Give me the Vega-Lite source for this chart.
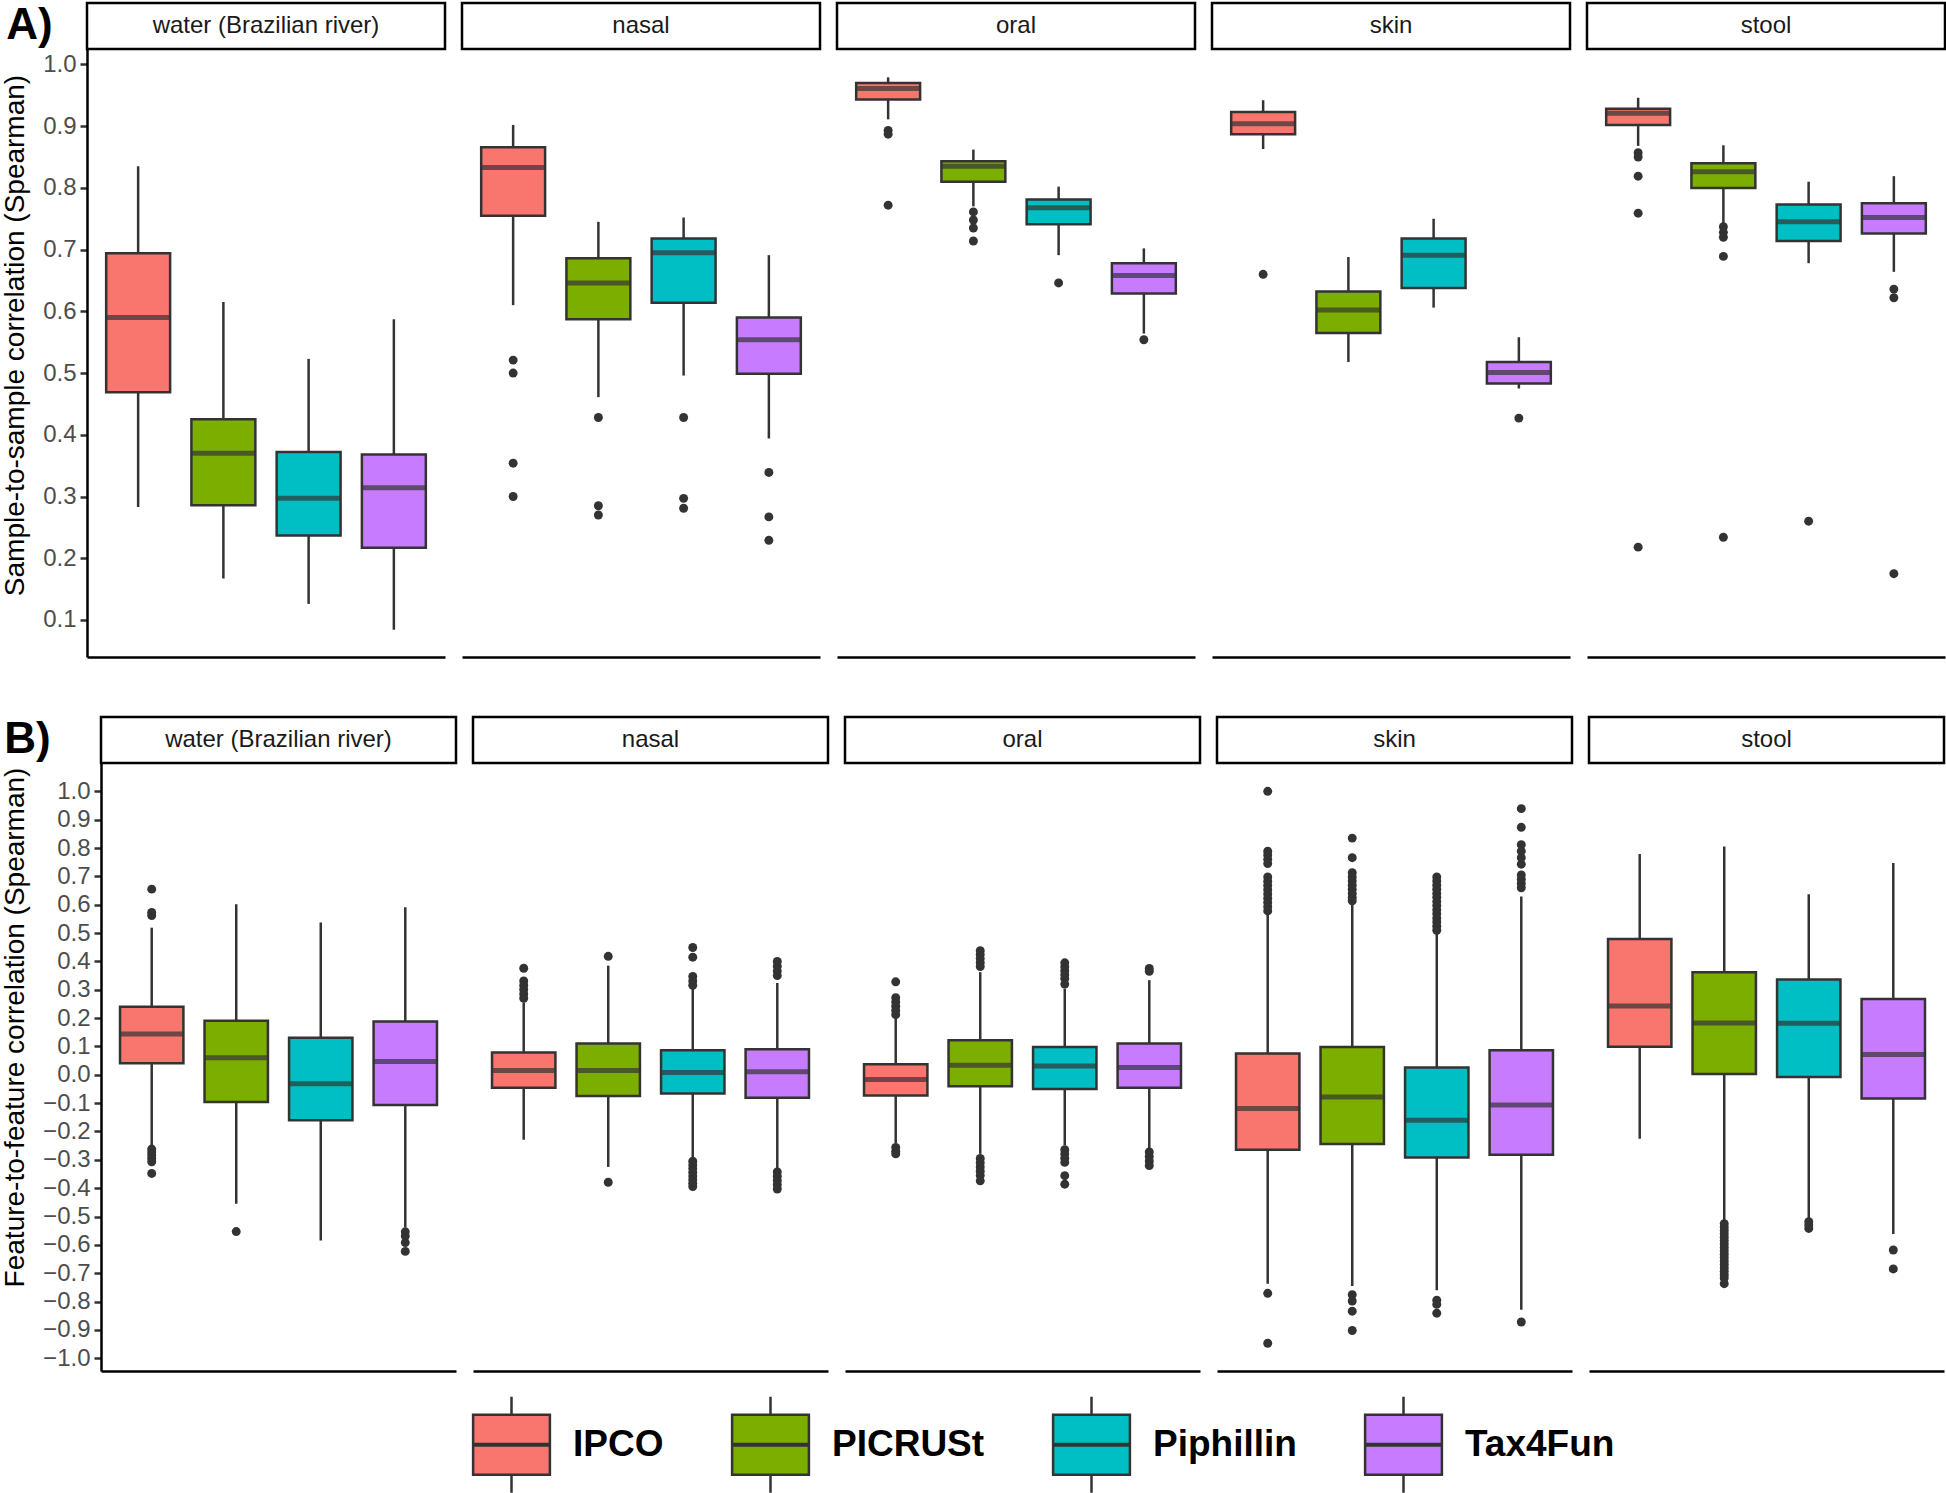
{
"$schema": "https://vega.github.io/schema/vega-lite/v6.json",
"padding": {"left": 0, "top": 1, "right": 0, "bottom": 0},
"background": "#ffffff",
"config": {
  "font": "Liberation Sans",
  "view": {"stroke": null},
  "axis": {"grid": false, "domainColor": "#000000", "domainWidth": 2.5, "tickColor": "#333333", "tickWidth": 2.5, "tickSize": 7, "labelPadding": 4, "labelFontSize": 24, "labelColor": "#4D4D4D", "labelOverlap": false, "labelFlush": false, "titleFontSize": 28, "titleFontWeight": "normal", "titleColor": "#000000", "titlePadding": 13},
  "axisX": {"labels": false, "ticks": false}
},
"datasets": {
  "statsA": [
    {"site":"water (Brazilian river)","method":"IPCO","lo":0.283,"q1":0.469,"med":0.590,"q3":0.694,"hi":0.835},
    {"site":"water (Brazilian river)","method":"PICRUSt","lo":0.167,"q1":0.286,"med":0.370,"q3":0.425,"hi":0.615},
    {"site":"water (Brazilian river)","method":"Piphillin","lo":0.126,"q1":0.237,"med":0.297,"q3":0.372,"hi":0.523},
    {"site":"water (Brazilian river)","method":"Tax4Fun","lo":0.084,"q1":0.217,"med":0.314,"q3":0.368,"hi":0.587},
    {"site":"nasal","method":"IPCO","lo":0.610,"q1":0.755,"med":0.833,"q3":0.866,"hi":0.902},
    {"site":"nasal","method":"PICRUSt","lo":0.461,"q1":0.587,"med":0.646,"q3":0.686,"hi":0.745},
    {"site":"nasal","method":"Piphillin","lo":0.496,"q1":0.614,"med":0.695,"q3":0.718,"hi":0.752},
    {"site":"nasal","method":"Tax4Fun","lo":0.394,"q1":0.499,"med":0.554,"q3":0.590,"hi":0.691},
    {"site":"oral","method":"IPCO","lo":0.911,"q1":0.943,"med":0.961,"q3":0.970,"hi":0.979},
    {"site":"oral","method":"PICRUSt","lo":0.770,"q1":0.810,"med":0.835,"q3":0.843,"hi":0.862},
    {"site":"oral","method":"Piphillin","lo":0.691,"q1":0.741,"med":0.768,"q3":0.781,"hi":0.802},
    {"site":"oral","method":"Tax4Fun","lo":0.564,"q1":0.629,"med":0.658,"q3":0.678,"hi":0.702},
    {"site":"skin","method":"IPCO","lo":0.863,"q1":0.887,"med":0.904,"q3":0.923,"hi":0.942},
    {"site":"skin","method":"PICRUSt","lo":0.518,"q1":0.565,"med":0.602,"q3":0.632,"hi":0.688},
    {"site":"skin","method":"Piphillin","lo":0.606,"q1":0.638,"med":0.691,"q3":0.718,"hi":0.750},
    {"site":"skin","method":"Tax4Fun","lo":0.475,"q1":0.483,"med":0.501,"q3":0.518,"hi":0.558},
    {"site":"stool","method":"IPCO","lo":0.868,"q1":0.902,"med":0.921,"q3":0.928,"hi":0.946},
    {"site":"stool","method":"PICRUSt","lo":0.740,"q1":0.800,"med":0.826,"q3":0.840,"hi":0.869},
    {"site":"stool","method":"Piphillin","lo":0.678,"q1":0.714,"med":0.745,"q3":0.773,"hi":0.810},
    {"site":"stool","method":"Tax4Fun","lo":0.664,"q1":0.726,"med":0.752,"q3":0.775,"hi":0.819}
  ],
  "outA": [
    {"site":"nasal","method":"IPCO","v":0.521},{"site":"nasal","method":"IPCO","v":0.500},{"site":"nasal","method":"IPCO","v":0.354},{"site":"nasal","method":"IPCO","v":0.300},
    {"site":"nasal","method":"PICRUSt","v":0.428},{"site":"nasal","method":"PICRUSt","v":0.285},{"site":"nasal","method":"PICRUSt","v":0.270},
    {"site":"nasal","method":"Piphillin","v":0.428},{"site":"nasal","method":"Piphillin","v":0.297},{"site":"nasal","method":"Piphillin","v":0.281},
    {"site":"nasal","method":"Tax4Fun","v":0.339},{"site":"nasal","method":"Tax4Fun","v":0.267},{"site":"nasal","method":"Tax4Fun","v":0.229},
    {"site":"oral","method":"IPCO","v":0.893},{"site":"oral","method":"IPCO","v":0.887},{"site":"oral","method":"IPCO","v":0.772},
    {"site":"oral","method":"PICRUSt","v":0.761},{"site":"oral","method":"PICRUSt","v":0.748},{"site":"oral","method":"PICRUSt","v":0.735},{"site":"oral","method":"PICRUSt","v":0.714},
    {"site":"oral","method":"Piphillin","v":0.646},
    {"site":"oral","method":"Tax4Fun","v":0.554},
    {"site":"skin","method":"IPCO","v":0.660},
    {"site":"skin","method":"Tax4Fun","v":0.427},
    {"site":"stool","method":"IPCO","v":0.857},{"site":"stool","method":"IPCO","v":0.850},{"site":"stool","method":"IPCO","v":0.819},{"site":"stool","method":"IPCO","v":0.759},{"site":"stool","method":"IPCO","v":0.218},
    {"site":"stool","method":"PICRUSt","v":0.737},{"site":"stool","method":"PICRUSt","v":0.728},{"site":"stool","method":"PICRUSt","v":0.720},{"site":"stool","method":"PICRUSt","v":0.689},{"site":"stool","method":"PICRUSt","v":0.234},
    {"site":"stool","method":"Piphillin","v":0.260},
    {"site":"stool","method":"Tax4Fun","v":0.636},{"site":"stool","method":"Tax4Fun","v":0.622},{"site":"stool","method":"Tax4Fun","v":0.175}
  ],
  "statsB": [
    {"site":"water (Brazilian river)","method":"IPCO","lo":-0.249,"q1":0.041,"med":0.144,"q3":0.240,"hi":0.519},
    {"site":"water (Brazilian river)","method":"PICRUSt","lo":-0.455,"q1":-0.096,"med":0.060,"q3":0.191,"hi":0.602},
    {"site":"water (Brazilian river)","method":"Piphillin","lo":-0.585,"q1":-0.160,"med":-0.032,"q3":0.131,"hi":0.537},
    {"site":"water (Brazilian river)","method":"Tax4Fun","lo":-0.539,"q1":-0.107,"med":0.047,"q3":0.188,"hi":0.591},
    {"site":"nasal","method":"IPCO","lo":-0.229,"q1":-0.046,"med":0.015,"q3":0.079,"hi":0.255},
    {"site":"nasal","method":"PICRUSt","lo":-0.325,"q1":-0.075,"med":0.015,"q3":0.110,"hi":0.385},
    {"site":"nasal","method":"Piphillin","lo":-0.295,"q1":-0.066,"med":0.008,"q3":0.087,"hi":0.308},
    {"site":"nasal","method":"Tax4Fun","lo":-0.333,"q1":-0.081,"med":0.011,"q3":0.090,"hi":0.324},
    {"site":"oral","method":"IPCO","lo":-0.241,"q1":-0.073,"med":-0.017,"q3":0.037,"hi":0.202},
    {"site":"oral","method":"PICRUSt","lo":-0.279,"q1":-0.040,"med":0.034,"q3":0.122,"hi":0.362},
    {"site":"oral","method":"Piphillin","lo":-0.249,"q1":-0.050,"med":0.031,"q3":0.098,"hi":0.304},
    {"site":"oral","method":"Tax4Fun","lo":-0.264,"q1":-0.046,"med":0.026,"q3":0.110,"hi":0.334},
    {"site":"skin","method":"IPCO","lo":-0.737,"q1":-0.264,"med":-0.119,"q3":0.075,"hi":0.568},
    {"site":"skin","method":"PICRUSt","lo":-0.745,"q1":-0.244,"med":-0.078,"q3":0.098,"hi":0.606},
    {"site":"skin","method":"Piphillin","lo":-0.760,"q1":-0.292,"med":-0.160,"q3":0.026,"hi":0.499},
    {"site":"skin","method":"Tax4Fun","lo":-0.829,"q1":-0.282,"med":-0.107,"q3":0.087,"hi":0.629},
    {"site":"stool","method":"IPCO","lo":-0.226,"q1":0.099,"med":0.243,"q3":0.479,"hi":0.779},
    {"site":"stool","method":"PICRUSt","lo":-0.516,"q1":0.003,"med":0.183,"q3":0.362,"hi":0.805},
    {"site":"stool","method":"Piphillin","lo":-0.508,"q1":-0.008,"med":0.182,"q3":0.336,"hi":0.637},
    {"site":"stool","method":"Tax4Fun","lo":-0.562,"q1":-0.084,"med":0.072,"q3":0.267,"hi":0.747}
  ],
  "outB": [
    {"site":"water (Brazilian river)","method":"IPCO","v":0.655},{"site":"water (Brazilian river)","method":"IPCO","v":0.573},{"site":"water (Brazilian river)","method":"IPCO","v":0.562},
    {"site":"water (Brazilian river)","method":"IPCO","v":-0.262},{"site":"water (Brazilian river)","method":"IPCO","v":-0.272},{"site":"water (Brazilian river)","method":"IPCO","v":-0.283},{"site":"water (Brazilian river)","method":"IPCO","v":-0.295},{"site":"water (Brazilian river)","method":"IPCO","v":-0.307},{"site":"water (Brazilian river)","method":"IPCO","v":-0.348},
    {"site":"water (Brazilian river)","method":"PICRUSt","v":-0.553},
    {"site":"water (Brazilian river)","method":"Tax4Fun","v":-0.554},{"site":"water (Brazilian river)","method":"Tax4Fun","v":-0.569},{"site":"water (Brazilian river)","method":"Tax4Fun","v":-0.592},{"site":"water (Brazilian river)","method":"Tax4Fun","v":-0.623},
    {"site":"nasal","method":"IPCO","v":0.376},{"site":"nasal","method":"IPCO","v":0.331},{"site":"nasal","method":"IPCO","v":0.316},{"site":"nasal","method":"IPCO","v":0.301},{"site":"nasal","method":"IPCO","v":0.285},{"site":"nasal","method":"IPCO","v":0.270},
    {"site":"nasal","method":"PICRUSt","v":0.418},{"site":"nasal","method":"PICRUSt","v":-0.379},
    {"site":"nasal","method":"Piphillin","v":0.449},{"site":"nasal","method":"Piphillin","v":0.415},{"site":"nasal","method":"Piphillin","v":0.347},{"site":"nasal","method":"Piphillin","v":0.331},{"site":"nasal","method":"Piphillin","v":0.316},
    {"site":"nasal","method":"Piphillin","v":-0.305},{"site":"nasal","method":"Piphillin","v":-0.318},{"site":"nasal","method":"Piphillin","v":-0.331},{"site":"nasal","method":"Piphillin","v":-0.344},{"site":"nasal","method":"Piphillin","v":-0.357},{"site":"nasal","method":"Piphillin","v":-0.370},{"site":"nasal","method":"Piphillin","v":-0.383},{"site":"nasal","method":"Piphillin","v":-0.394},
    {"site":"nasal","method":"Tax4Fun","v":0.400},{"site":"nasal","method":"Tax4Fun","v":0.383},{"site":"nasal","method":"Tax4Fun","v":0.366},{"site":"nasal","method":"Tax4Fun","v":0.350},
    {"site":"nasal","method":"Tax4Fun","v":-0.343},{"site":"nasal","method":"Tax4Fun","v":-0.358},{"site":"nasal","method":"Tax4Fun","v":-0.373},{"site":"nasal","method":"Tax4Fun","v":-0.388},{"site":"nasal","method":"Tax4Fun","v":-0.403},
    {"site":"oral","method":"IPCO","v":0.328},{"site":"oral","method":"IPCO","v":0.272},{"site":"oral","method":"IPCO","v":0.257},{"site":"oral","method":"IPCO","v":0.242},{"site":"oral","method":"IPCO","v":0.227},{"site":"oral","method":"IPCO","v":0.212},
    {"site":"oral","method":"IPCO","v":-0.256},{"site":"oral","method":"IPCO","v":-0.270},{"site":"oral","method":"IPCO","v":-0.279},
    {"site":"oral","method":"PICRUSt","v":0.438},{"site":"oral","method":"PICRUSt","v":0.424},{"site":"oral","method":"PICRUSt","v":0.410},{"site":"oral","method":"PICRUSt","v":0.396},{"site":"oral","method":"PICRUSt","v":0.382},
    {"site":"oral","method":"PICRUSt","v":-0.295},{"site":"oral","method":"PICRUSt","v":-0.310},{"site":"oral","method":"PICRUSt","v":-0.325},{"site":"oral","method":"PICRUSt","v":-0.340},{"site":"oral","method":"PICRUSt","v":-0.355},{"site":"oral","method":"PICRUSt","v":-0.374},
    {"site":"oral","method":"Piphillin","v":0.395},{"site":"oral","method":"Piphillin","v":0.381},{"site":"oral","method":"Piphillin","v":0.367},{"site":"oral","method":"Piphillin","v":0.353},{"site":"oral","method":"Piphillin","v":0.339},{"site":"oral","method":"Piphillin","v":0.320},
    {"site":"oral","method":"Piphillin","v":-0.264},{"site":"oral","method":"Piphillin","v":-0.279},{"site":"oral","method":"Piphillin","v":-0.294},{"site":"oral","method":"Piphillin","v":-0.309},{"site":"oral","method":"Piphillin","v":-0.356},{"site":"oral","method":"Piphillin","v":-0.386},
    {"site":"oral","method":"Tax4Fun","v":0.375},{"site":"oral","method":"Tax4Fun","v":0.365},
    {"site":"oral","method":"Tax4Fun","v":-0.272},{"site":"oral","method":"Tax4Fun","v":-0.288},{"site":"oral","method":"Tax4Fun","v":-0.304},{"site":"oral","method":"Tax4Fun","v":-0.320},
    {"site":"skin","method":"IPCO","v":1.0},{"site":"skin","method":"IPCO","v":0.789},{"site":"skin","method":"IPCO","v":0.775},{"site":"skin","method":"IPCO","v":0.760},{"site":"skin","method":"IPCO","v":0.745},
    {"site":"skin","method":"IPCO","v":0.698},{"site":"skin","method":"IPCO","v":0.683},{"site":"skin","method":"IPCO","v":0.668},{"site":"skin","method":"IPCO","v":0.653},{"site":"skin","method":"IPCO","v":0.638},{"site":"skin","method":"IPCO","v":0.623},{"site":"skin","method":"IPCO","v":0.608},{"site":"skin","method":"IPCO","v":0.593},{"site":"skin","method":"IPCO","v":0.578},
    {"site":"skin","method":"IPCO","v":-0.771},{"site":"skin","method":"IPCO","v":-0.947},
    {"site":"skin","method":"PICRUSt","v":0.835},{"site":"skin","method":"PICRUSt","v":0.766},{"site":"skin","method":"PICRUSt","v":0.713},{"site":"skin","method":"PICRUSt","v":0.698},{"site":"skin","method":"PICRUSt","v":0.684},{"site":"skin","method":"PICRUSt","v":0.669},{"site":"skin","method":"PICRUSt","v":0.655},{"site":"skin","method":"PICRUSt","v":0.640},{"site":"skin","method":"PICRUSt","v":0.626},{"site":"skin","method":"PICRUSt","v":0.614},
    {"site":"skin","method":"PICRUSt","v":-0.776},{"site":"skin","method":"PICRUSt","v":-0.798},{"site":"skin","method":"PICRUSt","v":-0.834},{"site":"skin","method":"PICRUSt","v":-0.902},
    {"site":"skin","method":"Piphillin","v":0.698},{"site":"skin","method":"Piphillin","v":0.684},{"site":"skin","method":"Piphillin","v":0.669},{"site":"skin","method":"Piphillin","v":0.655},{"site":"skin","method":"Piphillin","v":0.640},{"site":"skin","method":"Piphillin","v":0.626},{"site":"skin","method":"Piphillin","v":0.611},{"site":"skin","method":"Piphillin","v":0.597},{"site":"skin","method":"Piphillin","v":0.582},{"site":"skin","method":"Piphillin","v":0.568},{"site":"skin","method":"Piphillin","v":0.553},{"site":"skin","method":"Piphillin","v":0.539},{"site":"skin","method":"Piphillin","v":0.524},{"site":"skin","method":"Piphillin","v":0.510},
    {"site":"skin","method":"Piphillin","v":-0.795},{"site":"skin","method":"Piphillin","v":-0.810},{"site":"skin","method":"Piphillin","v":-0.841},
    {"site":"skin","method":"Tax4Fun","v":0.939},{"site":"skin","method":"Tax4Fun","v":0.873},{"site":"skin","method":"Tax4Fun","v":0.812},{"site":"skin","method":"Tax4Fun","v":0.789},{"site":"skin","method":"Tax4Fun","v":0.766},{"site":"skin","method":"Tax4Fun","v":0.743},{"site":"skin","method":"Tax4Fun","v":0.705},{"site":"skin","method":"Tax4Fun","v":0.690},{"site":"skin","method":"Tax4Fun","v":0.675},{"site":"skin","method":"Tax4Fun","v":0.660},
    {"site":"skin","method":"Tax4Fun","v":-0.872},
    {"site":"stool","method":"PICRUSt","v":-0.525},{"site":"stool","method":"PICRUSt","v":-0.537},{"site":"stool","method":"PICRUSt","v":-0.549},{"site":"stool","method":"PICRUSt","v":-0.561},{"site":"stool","method":"PICRUSt","v":-0.573},{"site":"stool","method":"PICRUSt","v":-0.585},{"site":"stool","method":"PICRUSt","v":-0.597},{"site":"stool","method":"PICRUSt","v":-0.609},{"site":"stool","method":"PICRUSt","v":-0.621},{"site":"stool","method":"PICRUSt","v":-0.633},{"site":"stool","method":"PICRUSt","v":-0.645},{"site":"stool","method":"PICRUSt","v":-0.657},{"site":"stool","method":"PICRUSt","v":-0.669},{"site":"stool","method":"PICRUSt","v":-0.681},{"site":"stool","method":"PICRUSt","v":-0.693},{"site":"stool","method":"PICRUSt","v":-0.705},{"site":"stool","method":"PICRUSt","v":-0.717},{"site":"stool","method":"PICRUSt","v":-0.737},
    {"site":"stool","method":"Piphillin","v":-0.518},{"site":"stool","method":"Piphillin","v":-0.530},{"site":"stool","method":"Piphillin","v":-0.542},
    {"site":"stool","method":"Tax4Fun","v":-0.618},{"site":"stool","method":"Tax4Fun","v":-0.685}
  ]
},
"vconcat": [
 {"hconcat": [
  {"hconcat": [
   {"width": 1, "height": 1, "data": {"values": []}, "mark": "point"},
   {"vconcat": [
    {"width": 358, "height": 46, "view": {"stroke": "#000000", "strokeWidth": 2.5},
     "title": {"text": "A)", "orient": "left", "angle": 0, "align": "right", "baseline": "middle", "anchor": "middle", "fontSize": 44, "fontWeight": "bold", "color": "#000000", "offset": 0, "dx": 12},
     "data": {"values": [{"label": "water (Brazilian river)"}]}, "mark": {"type": "text", "fontSize": 24, "color": "#1A1A1A"}, "encoding": {"text": {"field": "label"}}},
    {"width": 358, "height": 608, "data": {"name": "statsA"}, "transform": [{"filter": "datum.site === 'water (Brazilian river)'"}],
     "encoding": {"x": {"field": "method", "type": "nominal", "title": null, "scale": {"type": "band", "domain": ["IPCO","PICRUSt","Piphillin","Tax4Fun"], "paddingInner": 0.25, "paddingOuter": 0.225}}},
     "layer": [
      {"mark": {"type": "rule", "color": "#333333", "strokeWidth": 2.5}, "encoding": {"y": {"field": "lo", "type": "quantitative", "scale": {"domain": [0.04, 1.025], "nice": false, "zero": false}, "axis": {"title": "Sample-to-sample correlation (Spearman)", "values": [0.1,0.2,0.3,0.4,0.5,0.6,0.7,0.8,0.9,1.0], "format": ".1f", "titleY": 286}}, "y2": {"field": "hi"}}},
      {"mark": {"type": "bar", "stroke": "#333333", "strokeWidth": 2.5}, "encoding": {"y": {"field": "q1", "type": "quantitative", "axis": {"title": "Sample-to-sample correlation (Spearman)", "values": [0.1,0.2,0.3,0.4,0.5,0.6,0.7,0.8,0.9,1.0], "format": ".1f", "titleY": 286}}, "y2": {"field": "q3"},
        "color": {"field": "method", "type": "nominal", "scale": {"domain": ["IPCO","PICRUSt","Piphillin","Tax4Fun"], "range": ["#F8766D","#7CAE00","#00BFC4","#C77CFF"]},
          "legend": {"title": null, "orient": "none", "legendX": 462, "legendY": 1392, "direction": "horizontal", "symbolType": "M-0.8,-0.625H0.8V0.625H-0.8Z M0,-1V-0.625 M0,0.625V1 M-0.8,-0.015H0.8V0.015H-0.8Z", "symbolSize": 9216, "symbolStrokeColor": "#333333", "symbolStrokeWidth": 2.5, "symbolOpacity": 1, "labelFontSize": 37, "labelFontWeight": "bold", "labelColor": "#000000", "labelOffset": 12, "columnPadding": 57, "labelLimit": 400, "labelBaseline": "middle"}}}},
      {"mark": {"type": "tick", "orient": "horizontal", "color": "#333333", "thickness": 5, "size": 64}, "encoding": {"y": {"field": "med", "type": "quantitative", "axis": {"title": "Sample-to-sample correlation (Spearman)", "values": [0.1,0.2,0.3,0.4,0.5,0.6,0.7,0.8,0.9,1.0], "format": ".1f", "titleY": 286}}}},
      {"data": {"name": "outA"}, "transform": [{"filter": "datum.site === 'water (Brazilian river)'"}], "mark": {"type": "point", "filled": true, "color": "#333333", "size": 80, "opacity": 1}, "encoding": {"y": {"field": "v", "type": "quantitative", "axis": {"title": "Sample-to-sample correlation (Spearman)", "values": [0.1,0.2,0.3,0.4,0.5,0.6,0.7,0.8,0.9,1.0], "format": ".1f", "titleY": 286}}}}
     ]}
   ], "spacing": 0, "bounds": "flush"}
  ], "spacing": 0},
  {"vconcat": [
    {"width": 358, "height": 46, "view": {"stroke": "#000000", "strokeWidth": 2.5}, "data": {"values": [{"label": "nasal"}]}, "mark": {"type": "text", "fontSize": 24, "color": "#1A1A1A"}, "encoding": {"text": {"field": "label"}}},
    {"width": 358, "height": 608, "data": {"name": "statsA"}, "transform": [{"filter": "datum.site === 'nasal'"}],
     "encoding": {"x": {"field": "method", "type": "nominal", "title": null, "scale": {"type": "band", "domain": ["IPCO","PICRUSt","Piphillin","Tax4Fun"], "paddingInner": 0.25, "paddingOuter": 0.225}}},
     "layer": [
      {"mark": {"type": "rule", "color": "#333333", "strokeWidth": 2.5}, "encoding": {"y": {"field": "lo", "type": "quantitative", "scale": {"domain": [0.04, 1.025], "nice": false, "zero": false}, "axis": null}, "y2": {"field": "hi"}}},
      {"mark": {"type": "bar", "stroke": "#333333", "strokeWidth": 2.5}, "encoding": {"y": {"field": "q1", "type": "quantitative", "axis": null}, "y2": {"field": "q3"}, "color": {"field": "method", "type": "nominal", "scale": {"domain": ["IPCO","PICRUSt","Piphillin","Tax4Fun"], "range": ["#F8766D","#7CAE00","#00BFC4","#C77CFF"]}, "legend": null}}},
      {"mark": {"type": "tick", "orient": "horizontal", "color": "#333333", "thickness": 5, "size": 64}, "encoding": {"y": {"field": "med", "type": "quantitative", "axis": null}}},
      {"data": {"name": "outA"}, "transform": [{"filter": "datum.site === 'nasal'"}], "mark": {"type": "point", "filled": true, "color": "#333333", "size": 80, "opacity": 1}, "encoding": {"y": {"field": "v", "type": "quantitative", "axis": null}}}
     ]}
   ], "spacing": 0, "bounds": "flush"},
  {"vconcat": [
    {"width": 358, "height": 46, "view": {"stroke": "#000000", "strokeWidth": 2.5}, "data": {"values": [{"label": "oral"}]}, "mark": {"type": "text", "fontSize": 24, "color": "#1A1A1A"}, "encoding": {"text": {"field": "label"}}},
    {"width": 358, "height": 608, "data": {"name": "statsA"}, "transform": [{"filter": "datum.site === 'oral'"}],
     "encoding": {"x": {"field": "method", "type": "nominal", "title": null, "scale": {"type": "band", "domain": ["IPCO","PICRUSt","Piphillin","Tax4Fun"], "paddingInner": 0.25, "paddingOuter": 0.225}}},
     "layer": [
      {"mark": {"type": "rule", "color": "#333333", "strokeWidth": 2.5}, "encoding": {"y": {"field": "lo", "type": "quantitative", "scale": {"domain": [0.04, 1.025], "nice": false, "zero": false}, "axis": null}, "y2": {"field": "hi"}}},
      {"mark": {"type": "bar", "stroke": "#333333", "strokeWidth": 2.5}, "encoding": {"y": {"field": "q1", "type": "quantitative", "axis": null}, "y2": {"field": "q3"}, "color": {"field": "method", "type": "nominal", "scale": {"domain": ["IPCO","PICRUSt","Piphillin","Tax4Fun"], "range": ["#F8766D","#7CAE00","#00BFC4","#C77CFF"]}, "legend": null}}},
      {"mark": {"type": "tick", "orient": "horizontal", "color": "#333333", "thickness": 5, "size": 64}, "encoding": {"y": {"field": "med", "type": "quantitative", "axis": null}}},
      {"data": {"name": "outA"}, "transform": [{"filter": "datum.site === 'oral'"}], "mark": {"type": "point", "filled": true, "color": "#333333", "size": 80, "opacity": 1}, "encoding": {"y": {"field": "v", "type": "quantitative", "axis": null}}}
     ]}
   ], "spacing": 0, "bounds": "flush"},
  {"vconcat": [
    {"width": 358, "height": 46, "view": {"stroke": "#000000", "strokeWidth": 2.5}, "data": {"values": [{"label": "skin"}]}, "mark": {"type": "text", "fontSize": 24, "color": "#1A1A1A"}, "encoding": {"text": {"field": "label"}}},
    {"width": 358, "height": 608, "data": {"name": "statsA"}, "transform": [{"filter": "datum.site === 'skin'"}],
     "encoding": {"x": {"field": "method", "type": "nominal", "title": null, "scale": {"type": "band", "domain": ["IPCO","PICRUSt","Piphillin","Tax4Fun"], "paddingInner": 0.25, "paddingOuter": 0.225}}},
     "layer": [
      {"mark": {"type": "rule", "color": "#333333", "strokeWidth": 2.5}, "encoding": {"y": {"field": "lo", "type": "quantitative", "scale": {"domain": [0.04, 1.025], "nice": false, "zero": false}, "axis": null}, "y2": {"field": "hi"}}},
      {"mark": {"type": "bar", "stroke": "#333333", "strokeWidth": 2.5}, "encoding": {"y": {"field": "q1", "type": "quantitative", "axis": null}, "y2": {"field": "q3"}, "color": {"field": "method", "type": "nominal", "scale": {"domain": ["IPCO","PICRUSt","Piphillin","Tax4Fun"], "range": ["#F8766D","#7CAE00","#00BFC4","#C77CFF"]}, "legend": null}}},
      {"mark": {"type": "tick", "orient": "horizontal", "color": "#333333", "thickness": 5, "size": 64}, "encoding": {"y": {"field": "med", "type": "quantitative", "axis": null}}},
      {"data": {"name": "outA"}, "transform": [{"filter": "datum.site === 'skin'"}], "mark": {"type": "point", "filled": true, "color": "#333333", "size": 80, "opacity": 1}, "encoding": {"y": {"field": "v", "type": "quantitative", "axis": null}}}
     ]}
   ], "spacing": 0, "bounds": "flush"},
  {"vconcat": [
    {"width": 358, "height": 46, "view": {"stroke": "#000000", "strokeWidth": 2.5}, "data": {"values": [{"label": "stool"}]}, "mark": {"type": "text", "fontSize": 24, "color": "#1A1A1A"}, "encoding": {"text": {"field": "label"}}},
    {"width": 358, "height": 608, "data": {"name": "statsA"}, "transform": [{"filter": "datum.site === 'stool'"}],
     "encoding": {"x": {"field": "method", "type": "nominal", "title": null, "scale": {"type": "band", "domain": ["IPCO","PICRUSt","Piphillin","Tax4Fun"], "paddingInner": 0.25, "paddingOuter": 0.225}}},
     "layer": [
      {"mark": {"type": "rule", "color": "#333333", "strokeWidth": 2.5}, "encoding": {"y": {"field": "lo", "type": "quantitative", "scale": {"domain": [0.04, 1.025], "nice": false, "zero": false}, "axis": null}, "y2": {"field": "hi"}}},
      {"mark": {"type": "bar", "stroke": "#333333", "strokeWidth": 2.5}, "encoding": {"y": {"field": "q1", "type": "quantitative", "axis": null}, "y2": {"field": "q3"}, "color": {"field": "method", "type": "nominal", "scale": {"domain": ["IPCO","PICRUSt","Piphillin","Tax4Fun"], "range": ["#F8766D","#7CAE00","#00BFC4","#C77CFF"]}, "legend": null}}},
      {"mark": {"type": "tick", "orient": "horizontal", "color": "#333333", "thickness": 5, "size": 64}, "encoding": {"y": {"field": "med", "type": "quantitative", "axis": null}}},
      {"data": {"name": "outA"}, "transform": [{"filter": "datum.site === 'stool'"}], "mark": {"type": "point", "filled": true, "color": "#333333", "size": 80, "opacity": 1}, "encoding": {"y": {"field": "v", "type": "quantitative", "axis": null}}}
     ]}
   ], "spacing": 0, "bounds": "flush"}
 ], "spacing": 13},
 {"hconcat": [
  {"hconcat": [
   {"width": 1, "height": 1, "data": {"values": []}, "mark": "point"},
   {"vconcat": [
    {"width": 355, "height": 46, "view": {"stroke": "#000000", "strokeWidth": 2.5},
     "title": {"text": "B)", "orient": "left", "angle": 0, "align": "right", "baseline": "middle", "anchor": "middle", "fontSize": 44, "fontWeight": "bold", "color": "#000000", "offset": 0, "dx": -4},
     "data": {"values": [{"label": "water (Brazilian river)"}]}, "mark": {"type": "text", "fontSize": 24, "color": "#1A1A1A"}, "encoding": {"text": {"field": "label"}}},
    {"width": 355, "height": 608, "data": {"name": "statsB"}, "transform": [{"filter": "datum.site === 'water (Brazilian river)'"}],
     "encoding": {"x": {"field": "method", "type": "nominal", "title": null, "scale": {"type": "band", "domain": ["IPCO","PICRUSt","Piphillin","Tax4Fun"], "paddingInner": 0.25, "paddingOuter": 0.225}}},
     "layer": [
      {"mark": {"type": "rule", "color": "#333333", "strokeWidth": 2.5}, "encoding": {"y": {"field": "lo", "type": "quantitative", "scale": {"domain": [-1.045, 1.1], "nice": false, "zero": false}, "axis": {"title": "Feature-to-feature correlation (Spearman)", "values": [-1,-0.9,-0.8,-0.7,-0.6,-0.5,-0.4,-0.3,-0.2,-0.1,0,0.1,0.2,0.3,0.4,0.5,0.6,0.7,0.8,0.9,1], "format": ".1f", "titleY": 264}}, "y2": {"field": "hi"}}},
      {"mark": {"type": "bar", "stroke": "#333333", "strokeWidth": 2.5}, "encoding": {"y": {"field": "q1", "type": "quantitative", "axis": {"title": "Feature-to-feature correlation (Spearman)", "values": [-1,-0.9,-0.8,-0.7,-0.6,-0.5,-0.4,-0.3,-0.2,-0.1,0,0.1,0.2,0.3,0.4,0.5,0.6,0.7,0.8,0.9,1], "format": ".1f", "titleY": 264}}, "y2": {"field": "q3"}, "color": {"field": "method", "type": "nominal", "scale": {"domain": ["IPCO","PICRUSt","Piphillin","Tax4Fun"], "range": ["#F8766D","#7CAE00","#00BFC4","#C77CFF"]}, "legend": null}}},
      {"mark": {"type": "tick", "orient": "horizontal", "color": "#333333", "thickness": 5, "size": 64}, "encoding": {"y": {"field": "med", "type": "quantitative", "axis": {"title": "Feature-to-feature correlation (Spearman)", "values": [-1,-0.9,-0.8,-0.7,-0.6,-0.5,-0.4,-0.3,-0.2,-0.1,0,0.1,0.2,0.3,0.4,0.5,0.6,0.7,0.8,0.9,1], "format": ".1f", "titleY": 264}}}},
      {"data": {"name": "outB"}, "transform": [{"filter": "datum.site === 'water (Brazilian river)'"}], "mark": {"type": "point", "filled": true, "color": "#333333", "size": 80, "opacity": 1}, "encoding": {"y": {"field": "v", "type": "quantitative", "axis": {"title": "Feature-to-feature correlation (Spearman)", "values": [-1,-0.9,-0.8,-0.7,-0.6,-0.5,-0.4,-0.3,-0.2,-0.1,0,0.1,0.2,0.3,0.4,0.5,0.6,0.7,0.8,0.9,1], "format": ".1f", "titleY": 264}}}}
     ]}
   ], "spacing": 0, "bounds": "flush"}
  ], "spacing": 0},
  {"vconcat": [
    {"width": 355, "height": 46, "view": {"stroke": "#000000", "strokeWidth": 2.5}, "data": {"values": [{"label": "nasal"}]}, "mark": {"type": "text", "fontSize": 24, "color": "#1A1A1A"}, "encoding": {"text": {"field": "label"}}},
    {"width": 355, "height": 608, "data": {"name": "statsB"}, "transform": [{"filter": "datum.site === 'nasal'"}],
     "encoding": {"x": {"field": "method", "type": "nominal", "title": null, "scale": {"type": "band", "domain": ["IPCO","PICRUSt","Piphillin","Tax4Fun"], "paddingInner": 0.25, "paddingOuter": 0.225}}},
     "layer": [
      {"mark": {"type": "rule", "color": "#333333", "strokeWidth": 2.5}, "encoding": {"y": {"field": "lo", "type": "quantitative", "scale": {"domain": [-1.045, 1.1], "nice": false, "zero": false}, "axis": null}, "y2": {"field": "hi"}}},
      {"mark": {"type": "bar", "stroke": "#333333", "strokeWidth": 2.5}, "encoding": {"y": {"field": "q1", "type": "quantitative", "axis": null}, "y2": {"field": "q3"}, "color": {"field": "method", "type": "nominal", "scale": {"domain": ["IPCO","PICRUSt","Piphillin","Tax4Fun"], "range": ["#F8766D","#7CAE00","#00BFC4","#C77CFF"]}, "legend": null}}},
      {"mark": {"type": "tick", "orient": "horizontal", "color": "#333333", "thickness": 5, "size": 64}, "encoding": {"y": {"field": "med", "type": "quantitative", "axis": null}}},
      {"data": {"name": "outB"}, "transform": [{"filter": "datum.site === 'nasal'"}], "mark": {"type": "point", "filled": true, "color": "#333333", "size": 80, "opacity": 1}, "encoding": {"y": {"field": "v", "type": "quantitative", "axis": null}}}
     ]}
   ], "spacing": 0, "bounds": "flush"},
  {"vconcat": [
    {"width": 355, "height": 46, "view": {"stroke": "#000000", "strokeWidth": 2.5}, "data": {"values": [{"label": "oral"}]}, "mark": {"type": "text", "fontSize": 24, "color": "#1A1A1A"}, "encoding": {"text": {"field": "label"}}},
    {"width": 355, "height": 608, "data": {"name": "statsB"}, "transform": [{"filter": "datum.site === 'oral'"}],
     "encoding": {"x": {"field": "method", "type": "nominal", "title": null, "scale": {"type": "band", "domain": ["IPCO","PICRUSt","Piphillin","Tax4Fun"], "paddingInner": 0.25, "paddingOuter": 0.225}}},
     "layer": [
      {"mark": {"type": "rule", "color": "#333333", "strokeWidth": 2.5}, "encoding": {"y": {"field": "lo", "type": "quantitative", "scale": {"domain": [-1.045, 1.1], "nice": false, "zero": false}, "axis": null}, "y2": {"field": "hi"}}},
      {"mark": {"type": "bar", "stroke": "#333333", "strokeWidth": 2.5}, "encoding": {"y": {"field": "q1", "type": "quantitative", "axis": null}, "y2": {"field": "q3"}, "color": {"field": "method", "type": "nominal", "scale": {"domain": ["IPCO","PICRUSt","Piphillin","Tax4Fun"], "range": ["#F8766D","#7CAE00","#00BFC4","#C77CFF"]}, "legend": null}}},
      {"mark": {"type": "tick", "orient": "horizontal", "color": "#333333", "thickness": 5, "size": 64}, "encoding": {"y": {"field": "med", "type": "quantitative", "axis": null}}},
      {"data": {"name": "outB"}, "transform": [{"filter": "datum.site === 'oral'"}], "mark": {"type": "point", "filled": true, "color": "#333333", "size": 80, "opacity": 1}, "encoding": {"y": {"field": "v", "type": "quantitative", "axis": null}}}
     ]}
   ], "spacing": 0, "bounds": "flush"},
  {"vconcat": [
    {"width": 355, "height": 46, "view": {"stroke": "#000000", "strokeWidth": 2.5}, "data": {"values": [{"label": "skin"}]}, "mark": {"type": "text", "fontSize": 24, "color": "#1A1A1A"}, "encoding": {"text": {"field": "label"}}},
    {"width": 355, "height": 608, "data": {"name": "statsB"}, "transform": [{"filter": "datum.site === 'skin'"}],
     "encoding": {"x": {"field": "method", "type": "nominal", "title": null, "scale": {"type": "band", "domain": ["IPCO","PICRUSt","Piphillin","Tax4Fun"], "paddingInner": 0.25, "paddingOuter": 0.225}}},
     "layer": [
      {"mark": {"type": "rule", "color": "#333333", "strokeWidth": 2.5}, "encoding": {"y": {"field": "lo", "type": "quantitative", "scale": {"domain": [-1.045, 1.1], "nice": false, "zero": false}, "axis": null}, "y2": {"field": "hi"}}},
      {"mark": {"type": "bar", "stroke": "#333333", "strokeWidth": 2.5}, "encoding": {"y": {"field": "q1", "type": "quantitative", "axis": null}, "y2": {"field": "q3"}, "color": {"field": "method", "type": "nominal", "scale": {"domain": ["IPCO","PICRUSt","Piphillin","Tax4Fun"], "range": ["#F8766D","#7CAE00","#00BFC4","#C77CFF"]}, "legend": null}}},
      {"mark": {"type": "tick", "orient": "horizontal", "color": "#333333", "thickness": 5, "size": 64}, "encoding": {"y": {"field": "med", "type": "quantitative", "axis": null}}},
      {"data": {"name": "outB"}, "transform": [{"filter": "datum.site === 'skin'"}], "mark": {"type": "point", "filled": true, "color": "#333333", "size": 80, "opacity": 1}, "encoding": {"y": {"field": "v", "type": "quantitative", "axis": null}}}
     ]}
   ], "spacing": 0, "bounds": "flush"},
  {"vconcat": [
    {"width": 355, "height": 46, "view": {"stroke": "#000000", "strokeWidth": 2.5}, "data": {"values": [{"label": "stool"}]}, "mark": {"type": "text", "fontSize": 24, "color": "#1A1A1A"}, "encoding": {"text": {"field": "label"}}},
    {"width": 355, "height": 608, "data": {"name": "statsB"}, "transform": [{"filter": "datum.site === 'stool'"}],
     "encoding": {"x": {"field": "method", "type": "nominal", "title": null, "scale": {"type": "band", "domain": ["IPCO","PICRUSt","Piphillin","Tax4Fun"], "paddingInner": 0.25, "paddingOuter": 0.225}}},
     "layer": [
      {"mark": {"type": "rule", "color": "#333333", "strokeWidth": 2.5}, "encoding": {"y": {"field": "lo", "type": "quantitative", "scale": {"domain": [-1.045, 1.1], "nice": false, "zero": false}, "axis": null}, "y2": {"field": "hi"}}},
      {"mark": {"type": "bar", "stroke": "#333333", "strokeWidth": 2.5}, "encoding": {"y": {"field": "q1", "type": "quantitative", "axis": null}, "y2": {"field": "q3"}, "color": {"field": "method", "type": "nominal", "scale": {"domain": ["IPCO","PICRUSt","Piphillin","Tax4Fun"], "range": ["#F8766D","#7CAE00","#00BFC4","#C77CFF"]}, "legend": null}}},
      {"mark": {"type": "tick", "orient": "horizontal", "color": "#333333", "thickness": 5, "size": 64}, "encoding": {"y": {"field": "med", "type": "quantitative", "axis": null}}},
      {"data": {"name": "outB"}, "transform": [{"filter": "datum.site === 'stool'"}], "mark": {"type": "point", "filled": true, "color": "#333333", "size": 80, "opacity": 1}, "encoding": {"y": {"field": "v", "type": "quantitative", "axis": null}}}
     ]}
   ], "spacing": 0, "bounds": "flush"}
 ], "spacing": 13}
],
"spacing": 58
}
